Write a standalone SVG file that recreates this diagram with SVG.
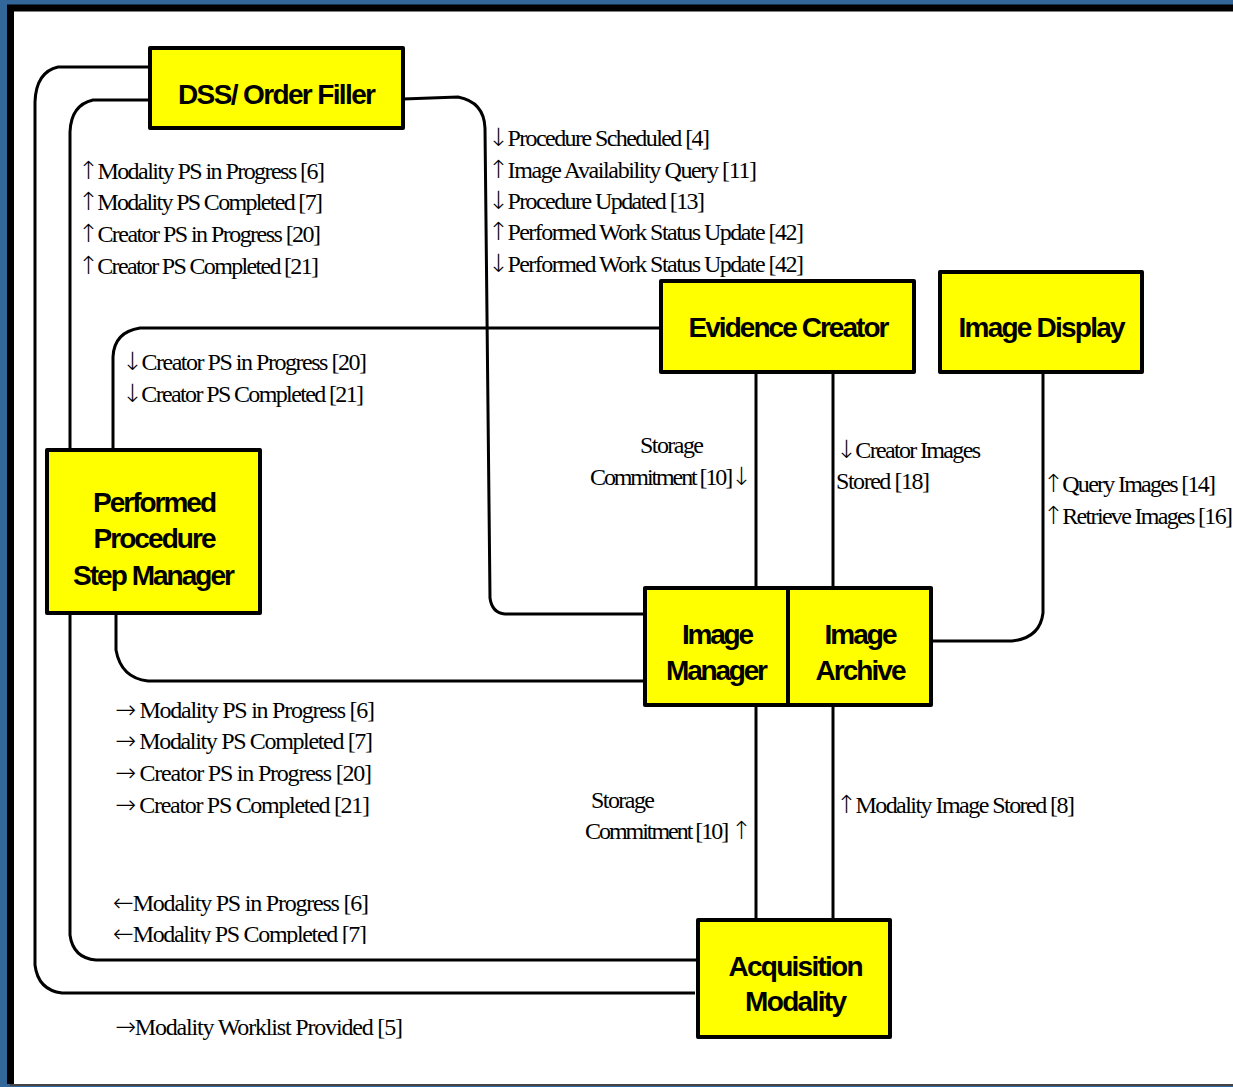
<svg xmlns="http://www.w3.org/2000/svg" width="1233" height="1087" viewBox="0 0 1233 1087">
<style>
.node rect{fill:#FFFF00;stroke:#000;stroke-width:4;stroke-linejoin:round}
.node text{font-family:"Liberation Sans",Arial,sans-serif;font-weight:bold;font-size:28px;text-anchor:middle;fill:#000}
.conn path{fill:none;stroke:#000;stroke-width:3}
.lbl text{font-family:"Liberation Serif","Times New Roman",serif;font-size:24px;fill:#000}
.lbl .ar{font-family:"DejaVu Sans",sans-serif;font-size:25px;font-weight:200}
</style>
<defs>
<clipPath id="clipBottom"><rect x="0" y="0" width="1233" height="944"/></clipPath>
</defs>
<rect x="0" y="0" width="1233" height="1087" fill="#336699"/>
<rect x="11" y="8" width="1222" height="1076" fill="#fff"/>
<path d="M10.5 1084 V8 H1233" fill="none" stroke="#000" stroke-width="7"/>
<path d="M10 1085 H1233" fill="none" stroke="#444" stroke-width="2"/>

<g class="conn" id="connectors">
<path d="M150 67 H58 Q36 72 35 102 V965 Q38 990 62 993 H695"/>
<path d="M150 100 H93 Q71 105 70 132 V450"/>
<path d="M70 613 V935 Q73 958 96 960 H698"/>
<path d="M403 99 L458 97 Q484 102 485 128 L490 598 Q492 613 505 614 H645"/>
<path d="M661 328 H140 Q114 332 113 357 V450"/>
<path d="M116 613 V650 Q121 678 148 681 H645"/>
<path d="M756 372 V588"/>
<path d="M833 355 V588"/>
<path d="M1043 372 V613 Q1040 638 1012 641 H931"/>
<path d="M756 705 V920"/>
<path d="M833 705 V920"/>
</g>

<g class="node" id="dss-order-filler"><rect x="150" y="48" width="253" height="80"/><text x="277" y="104" textLength="198">DSS/ Order Filler</text></g>
<g class="node" id="evidence-creator"><rect x="661" y="281" width="253" height="91"/><text x="789" y="337" textLength="201">Evidence Creator</text></g>
<g class="node" id="image-display"><rect x="940" y="272" width="202" height="100"/><text x="1042" y="337" textLength="167">Image Display</text></g>
<g class="node" id="ppsm"><rect x="47" y="450" width="213" height="163"/><text x="155" y="512" textLength="124">Performed</text><text x="155" y="548" textLength="123">Procedure</text><text x="154" y="585" textLength="162">Step Manager</text></g>
<g class="node" id="image-manager"><rect x="645" y="588" width="143" height="117"/><text x="718" y="644" textLength="72">Image</text><text x="717" y="680" textLength="102">Manager</text></g>
<g class="node" id="image-archive"><rect x="788" y="588" width="143" height="117"/><text x="861" y="644" textLength="73">Image</text><text x="861" y="680" textLength="91">Archive</text></g>
<g class="node" id="acquisition-modality"><rect x="698" y="920" width="192" height="117"/><text x="796" y="976" textLength="135">Acquisition</text><text x="796" y="1011" textLength="102">Modality</text></g>

<g class="lbl" id="labels">
<text x="78" y="179" textLength="247"><tspan class="ar">↑</tspan>Modality PS in Progress [6]</text>
<text x="78" y="210" textLength="245"><tspan class="ar">↑</tspan>Modality PS Completed [7]</text>
<text x="78" y="242" textLength="243"><tspan class="ar">↑</tspan>Creator PS in Progress [20]</text>
<text x="78" y="274" textLength="241"><tspan class="ar">↑</tspan>Creator PS Completed [21]</text>

<text x="488" y="146" textLength="222"><tspan class="ar">↓</tspan>Procedure Scheduled [4]</text>
<text x="488" y="178" textLength="269"><tspan class="ar">↑</tspan>Image Availability Query [11]</text>
<text x="488" y="209" textLength="217"><tspan class="ar">↓</tspan>Procedure Updated [13]</text>
<text x="488" y="240" textLength="316"><tspan class="ar">↑</tspan>Performed Work Status Update [42]</text>
<text x="488" y="272" textLength="316"><tspan class="ar">↓</tspan>Performed Work Status Update [42]</text>

<text x="122" y="370" textLength="245"><tspan class="ar">↓</tspan>Creator PS in Progress [20]</text>
<text x="122" y="402" textLength="242"><tspan class="ar">↓</tspan>Creator PS Completed [21]</text>

<text x="640" y="453" textLength="64">Storage</text>
<text x="590" y="485" textLength="162">Commitment [10]<tspan class="ar">↓</tspan></text>

<text x="836" y="458" textLength="145"><tspan class="ar">↓</tspan>Creator Images</text>
<text x="836" y="489" textLength="94">Stored [18]</text>

<text x="1043" y="492" textLength="173"><tspan class="ar">↑</tspan>Query Images [14]</text>
<text x="1043" y="524" textLength="190"><tspan class="ar">↑</tspan>Retrieve Images [16]</text>

<text x="115" y="718" textLength="260"><tspan class="ar">→</tspan> Modality PS in Progress [6]</text>
<text x="115" y="749" textLength="258"><tspan class="ar">→</tspan> Modality PS Completed [7]</text>
<text x="115" y="781" textLength="257"><tspan class="ar">→</tspan> Creator PS in Progress [20]</text>
<text x="115" y="813" textLength="255"><tspan class="ar">→</tspan> Creator PS Completed [21]</text>

<text x="591" y="808" textLength="64">Storage</text>
<text x="585" y="839" textLength="167">Commitment [10] <tspan class="ar">↑</tspan></text>

<text x="836" y="813" textLength="239"><tspan class="ar">↑</tspan>Modality Image Stored [8]</text>

<text x="113" y="911" textLength="256"><tspan class="ar">←</tspan>Modality PS in Progress [6]</text>
<text x="113" y="942" textLength="254" clip-path="url(#clipBottom)"><tspan class="ar">←</tspan>Modality PS Completed [7]</text>

<text x="115" y="1035" textLength="288"><tspan class="ar">→</tspan>Modality Worklist Provided [5]</text>
</g>
</svg>
